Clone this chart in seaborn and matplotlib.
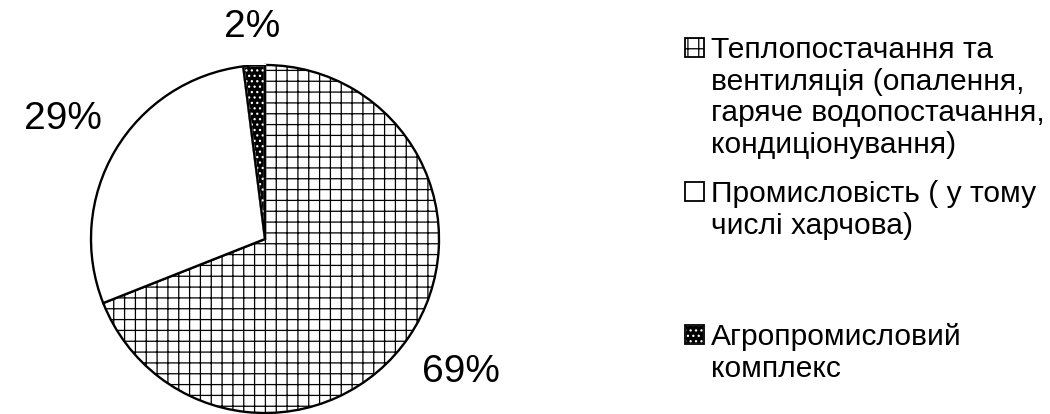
import numpy as np
import matplotlib
matplotlib.use("Agg")
import matplotlib.pyplot as plt
from matplotlib.patches import Wedge, Rectangle
import seaborn as sns

# Структура споживання теплової енергії за галузями
categories = [
    "Теплопостачання та\nвентиляція (опалення,\nгаряче водопостачання,\nкондиціонування)",
    "Промисловість ( у тому\nчислі харчова)",
    "Агропромисловий\nкомплекс",
]
shares = [69, 29, 2]

face_colors = ["white", "white", "black"]
hatches = ["++", None, "...."]
hatch_edges = ["black", "black", "white"]
label_dist = [1.36, 1.35, 1.22]

sns.set_theme(style="white", rc={"hatch.linewidth": 0.7})
plt.rcParams["font.family"] = ["Liberation Sans", "DejaVu Sans"]

DPI = 130
fig = plt.figure(figsize=(1050 / DPI, 414 / DPI), dpi=DPI)
W, H = 1050, 414

# centre of the pie in pixels measured from the top-left corner
cx, cy, R = 265, 239, 174
ax = fig.add_axes([(cx - R) / W, (H - cy - R) / H, 2 * R / W, 2 * R / H])

wedges, texts, autotexts = ax.pie(
    shares,
    startangle=90,
    counterclock=False,
    radius=1.0,
    autopct="%.0f%%",
    pctdistance=1.3,
    wedgeprops=dict(edgecolor="black", linewidth=1.3),
    textprops=dict(fontsize=21.5, color="black"),
)
ax.set_xlim(-1, 1)
ax.set_ylim(-1, 1)
ax.set_aspect("equal")
ax.axis("off")

for w, fc, hatch, he, at, d in zip(wedges, face_colors, hatches, hatch_edges, autotexts, label_dist):
    w.set_facecolor(fc)
    if hatch:
        w.set_hatch(hatch)
    w.set_edgecolor(he)
    if he != "black":
        # outline drawn on top so the wedge border stays black
        ax.add_patch(Wedge(w.center, w.r, w.theta1, w.theta2, fill=False,
                           edgecolor="black", linewidth=1.3))
    mid = np.deg2rad((w.theta1 + w.theta2) / 2)
    at.set_position((d * np.cos(mid), d * np.sin(mid)))
    at.set_ha("center")
    at.set_va("center")

# Легенда: квадратні маркери з тим самим штрихуванням
legend_x = 685
box = 19
entry_tops = [38, 182, 325]
fs = 16.6
for label, fc, hatch, he, top in zip(categories, face_colors, hatches, hatch_edges, entry_tops):
    rect = Rectangle((legend_x / W, 1 - (top + box) / H), box / W, box / H,
                     transform=fig.transFigure, facecolor=fc, edgecolor=he,
                     hatch=hatch, linewidth=1.0)
    fig.add_artist(rect)
    if he != "black":
        fig.add_artist(Rectangle((legend_x / W, 1 - (top + box) / H), box / W, box / H,
                                 transform=fig.transFigure, fill=False,
                                 edgecolor="black", linewidth=1.0))
    fig.text((legend_x + box + 7) / W, 1 - (top - 2) / H, label,
             fontsize=fs, va="top", ha="left", linespacing=1.17, color="black")

fig.savefig("out.png", dpi=DPI, facecolor="white")
